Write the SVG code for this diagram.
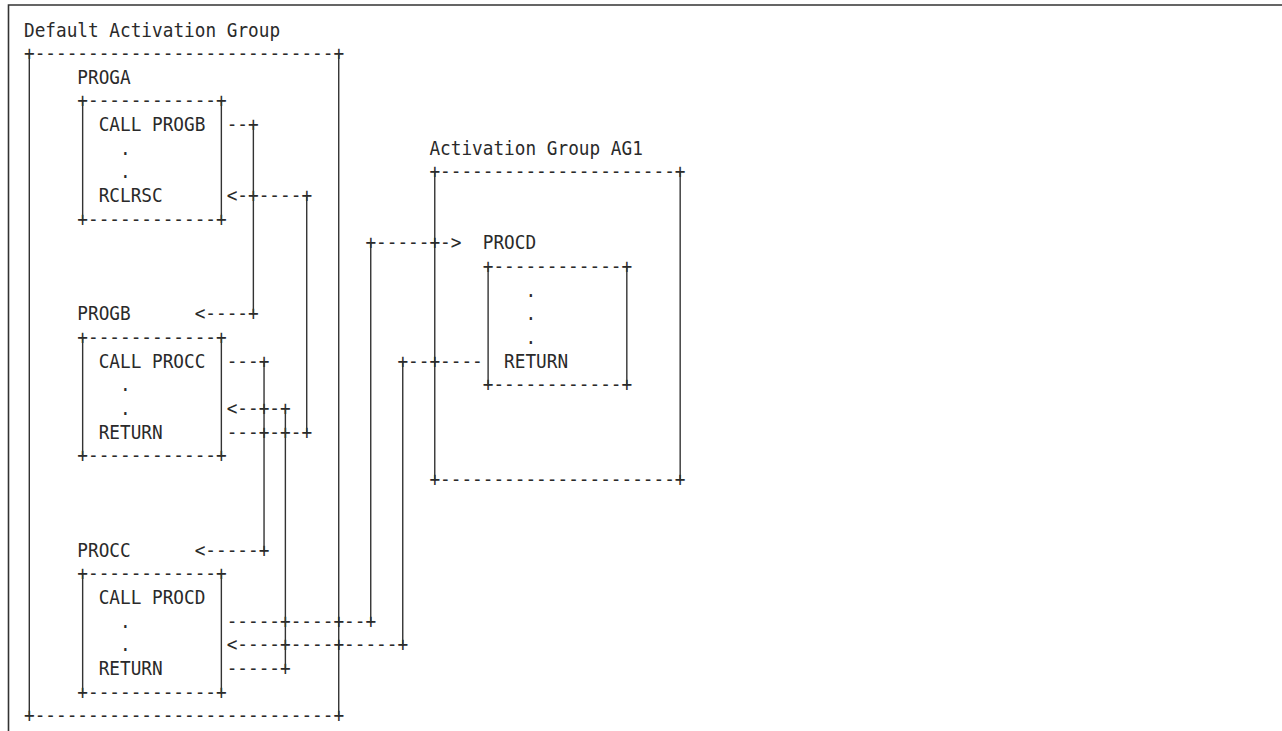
<svg xmlns="http://www.w3.org/2000/svg" width="1282" height="731" viewBox="0 0 1282 731">
<style>
text{font-family:"DejaVu Sans Mono","Liberation Mono",monospace;font-size:19.5px;fill:#2a2a2a;white-space:pre}
.v{stroke:#333;stroke-width:1.4;fill:none}
.border{stroke:#333;stroke-width:1.6;fill:none}
</style>
<rect width="1282" height="731" fill="#fff"/>
<path class="border" d="M8.5,731 V5 H1282"/>

<g id="default-activation-group">
<text x="24" y="36.5" textLength="256.08" lengthAdjust="spacingAndGlyphs">Default Activation Group</text>
<text x="24" y="60.15" textLength="320.1" lengthAdjust="spacingAndGlyphs">+----------------------------+</text>
<text x="24" y="722.35" textLength="320.1" lengthAdjust="spacingAndGlyphs">+----------------------------+</text>
<line class="v" x1="29.3" y1="53.95" x2="29.3" y2="716.15"/>
<line class="v" x1="338.73" y1="53.95" x2="338.73" y2="716.15"/>
</g>

<g id="proga">
<text x="77.32" y="83.8" textLength="53.35" lengthAdjust="spacingAndGlyphs">PROGA</text>
<text x="77.32" y="107.45" textLength="149.38" lengthAdjust="spacingAndGlyphs">+------------+</text>
<text x="98.66" y="131.1" textLength="106.7" lengthAdjust="spacingAndGlyphs">CALL PROGB</text>
<text x="120" y="154.75" textLength="10.67" lengthAdjust="spacingAndGlyphs">.</text>
<text x="120" y="178.4" textLength="10.67" lengthAdjust="spacingAndGlyphs">.</text>
<text x="98.66" y="202.05" textLength="64.02" lengthAdjust="spacingAndGlyphs">RCLRSC</text>
<text x="77.32" y="225.7" textLength="149.38" lengthAdjust="spacingAndGlyphs">+------------+</text>
<line class="v" x1="82.65" y1="101.25" x2="82.65" y2="219.5"/>
<line class="v" x1="221.36" y1="101.25" x2="221.36" y2="219.5"/>
</g>

<g id="progb">
<text x="77.32" y="320.3" textLength="53.35" lengthAdjust="spacingAndGlyphs">PROGB</text>
<text x="77.32" y="343.95" textLength="149.38" lengthAdjust="spacingAndGlyphs">+------------+</text>
<text x="98.66" y="367.6" textLength="106.7" lengthAdjust="spacingAndGlyphs">CALL PROCC</text>
<text x="120" y="391.25" textLength="10.67" lengthAdjust="spacingAndGlyphs">.</text>
<text x="120" y="414.9" textLength="10.67" lengthAdjust="spacingAndGlyphs">.</text>
<text x="98.66" y="438.55" textLength="64.02" lengthAdjust="spacingAndGlyphs">RETURN</text>
<text x="77.32" y="462.2" textLength="149.38" lengthAdjust="spacingAndGlyphs">+------------+</text>
<line class="v" x1="82.65" y1="337.75" x2="82.65" y2="456"/>
<line class="v" x1="221.36" y1="337.75" x2="221.36" y2="456"/>
</g>

<g id="procc">
<text x="77.32" y="556.8" textLength="53.35" lengthAdjust="spacingAndGlyphs">PROCC</text>
<text x="77.32" y="580.45" textLength="149.38" lengthAdjust="spacingAndGlyphs">+------------+</text>
<text x="98.66" y="604.1" textLength="106.7" lengthAdjust="spacingAndGlyphs">CALL PROCD</text>
<text x="120" y="627.75" textLength="10.67" lengthAdjust="spacingAndGlyphs">.</text>
<text x="120" y="651.4" textLength="10.67" lengthAdjust="spacingAndGlyphs">.</text>
<text x="98.66" y="675.05" textLength="64.02" lengthAdjust="spacingAndGlyphs">RETURN</text>
<text x="77.32" y="698.7" textLength="149.38" lengthAdjust="spacingAndGlyphs">+------------+</text>
<line class="v" x1="82.65" y1="574.25" x2="82.65" y2="692.5"/>
<line class="v" x1="221.36" y1="574.25" x2="221.36" y2="692.5"/>
</g>

<g id="activation-group-ag1">
<text x="429.43" y="154.75" textLength="213.4" lengthAdjust="spacingAndGlyphs">Activation Group AG1</text>
<text x="429.43" y="178.4" textLength="256.08" lengthAdjust="spacingAndGlyphs">+----------------------+</text>
<text x="429.43" y="485.85" textLength="256.08" lengthAdjust="spacingAndGlyphs">+----------------------+</text>
<line class="v" x1="434.76" y1="172.2" x2="434.76" y2="479.65"/>
<line class="v" x1="680.17" y1="172.2" x2="680.17" y2="479.65"/>
</g>

<g id="procd">
<text x="482.78" y="249.35" textLength="53.35" lengthAdjust="spacingAndGlyphs">PROCD</text>
<text x="482.78" y="273" textLength="149.38" lengthAdjust="spacingAndGlyphs">+------------+</text>
<text x="525.46" y="296.65" textLength="10.67" lengthAdjust="spacingAndGlyphs">.</text>
<text x="525.46" y="320.3" textLength="10.67" lengthAdjust="spacingAndGlyphs">.</text>
<text x="525.46" y="343.95" textLength="10.67" lengthAdjust="spacingAndGlyphs">.</text>
<text x="504.12" y="367.6" textLength="64.02" lengthAdjust="spacingAndGlyphs">RETURN</text>
<text x="482.78" y="391.25" textLength="149.38" lengthAdjust="spacingAndGlyphs">+------------+</text>
<line class="v" x1="488.11" y1="266.8" x2="488.11" y2="385.05"/>
<line class="v" x1="626.82" y1="266.8" x2="626.82" y2="385.05"/>
</g>

<g id="connectors">
<text x="226.7" y="131.1" textLength="32.01" lengthAdjust="spacingAndGlyphs">--+</text>
<text x="226.7" y="202.05" textLength="85.36" lengthAdjust="spacingAndGlyphs">&lt;-+----+</text>
<text x="365.41" y="249.35" textLength="96.03" lengthAdjust="spacingAndGlyphs">+-----+-&gt;</text>
<text x="194.69" y="320.3" textLength="64.02" lengthAdjust="spacingAndGlyphs">&lt;----+</text>
<text x="226.7" y="367.6" textLength="42.68" lengthAdjust="spacingAndGlyphs">---+</text>
<text x="397.42" y="367.6" textLength="85.36" lengthAdjust="spacingAndGlyphs">+--+----</text>
<text x="226.7" y="414.9" textLength="64.02" lengthAdjust="spacingAndGlyphs">&lt;--+-+</text>
<text x="226.7" y="438.55" textLength="85.36" lengthAdjust="spacingAndGlyphs">---+-+-+</text>
<text x="194.69" y="556.8" textLength="74.69" lengthAdjust="spacingAndGlyphs">&lt;-----+</text>
<text x="226.7" y="627.75" textLength="149.38" lengthAdjust="spacingAndGlyphs">-----+----+--+</text>
<text x="226.7" y="651.4" textLength="181.39" lengthAdjust="spacingAndGlyphs">&lt;----+----+-----+</text>
<text x="226.7" y="675.05" textLength="64.02" lengthAdjust="spacingAndGlyphs">-----+</text>
<line class="v" x1="253.37" y1="124.9" x2="253.37" y2="314.1"/>
<line class="v" x1="306.72" y1="195.85" x2="306.72" y2="432.35"/>
<line class="v" x1="264.04" y1="361.4" x2="264.04" y2="550.6"/>
<line class="v" x1="285.38" y1="408.7" x2="285.38" y2="668.85"/>
<line class="v" x1="370.74" y1="243.15" x2="370.74" y2="621.55"/>
<line class="v" x1="402.75" y1="361.4" x2="402.75" y2="645.2"/>
</g>
</svg>
